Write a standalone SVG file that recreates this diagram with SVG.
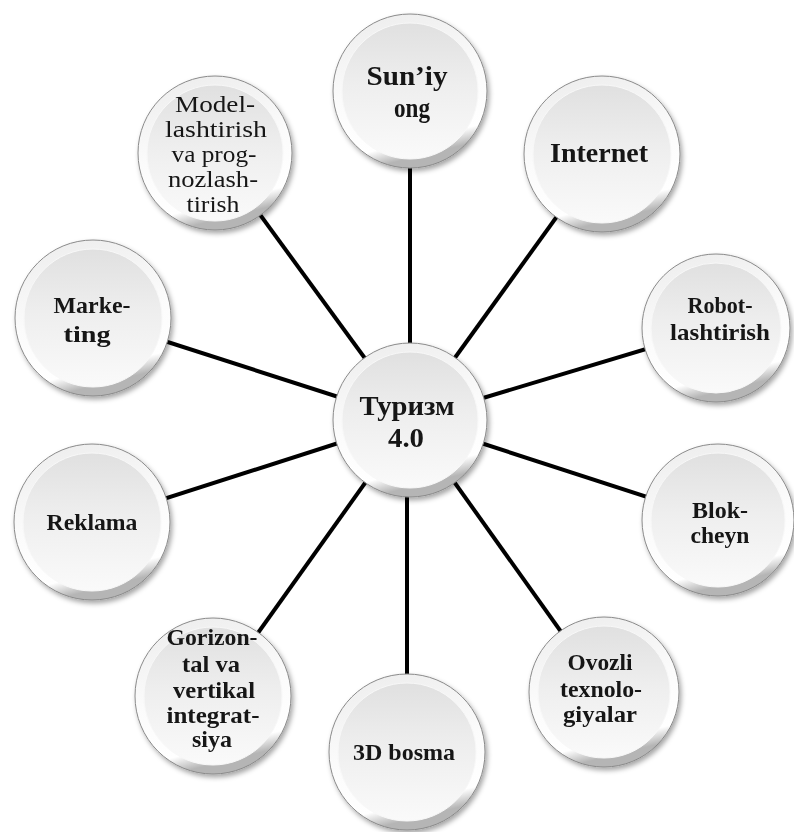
<svg xmlns="http://www.w3.org/2000/svg" width="794" height="832" viewBox="0 0 794 832">
<style>
.edge{stroke:#000;stroke-width:4;stroke-linecap:butt}
.rim{fill:url(#rim);stroke:#8a8a8a;stroke-width:1}
.face{fill:url(#face);stroke:#f8f8f8;stroke-width:1}
text{font-family:"Liberation Serif","Times New Roman",serif;fill:#151515;text-anchor:middle}
.b{font-weight:bold;font-size:24px}
.big{font-weight:bold;font-size:28px}
.r{font-weight:normal;font-size:23px}
</style>
<defs>
<linearGradient id="rim" x1="0" y1="0" x2="0.25" y2="1">
<stop offset="0" stop-color="#ececec"/>
<stop offset="0.55" stop-color="#fbfbfb"/>
<stop offset="0.9" stop-color="#ffffff"/>
<stop offset="1" stop-color="#b5b5b5"/>
</linearGradient>
<linearGradient id="face" x1="0" y1="0" x2="0" y2="1">
<stop offset="0" stop-color="#e0e0e0"/>
<stop offset="0.45" stop-color="#eeeeee"/>
<stop offset="1" stop-color="#fafafa"/>
</linearGradient>
<filter id="sh" x="-20%" y="-20%" width="140%" height="140%">
<feDropShadow dx="2" dy="3" stdDeviation="2.5" flood-color="#000" flood-opacity="0.35"/>
</filter>
</defs>
<rect width="794" height="832" fill="#fff"/>
<g id="connectors">
<line class="edge" x1="410" y1="420" x2="410" y2="91"/>
<line class="edge" x1="410" y1="420" x2="602" y2="154"/>
<line class="edge" x1="410" y1="420" x2="716" y2="328"/>
<line class="edge" x1="410" y1="420" x2="718" y2="520"/>
<line class="edge" x1="410" y1="420" x2="604" y2="692"/>
<line class="edge" x1="407" y1="420" x2="407" y2="752"/>
<line class="edge" x1="410" y1="420" x2="213" y2="696"/>
<line class="edge" x1="410" y1="420" x2="92" y2="522"/>
<line class="edge" x1="410" y1="420" x2="93" y2="318"/>
<line class="edge" x1="410" y1="420" x2="215" y2="153"/>
</g>
<g id="center" filter="url(#sh)">
<circle class="rim" cx="410" cy="420" r="77"/>
<circle class="face" cx="410" cy="420" r="68"/>
<text class="big" x="407" y="415" textLength="95" lengthAdjust="spacingAndGlyphs">Туризм</text>
<text class="big" x="406" y="447" textLength="36" lengthAdjust="spacingAndGlyphs">4.0</text>
</g>
<g id="suniy-ong" filter="url(#sh)">
<circle class="rim" cx="410" cy="91" r="77"/>
<circle class="face" cx="410" cy="91" r="68"/>
<text class="big" x="407" y="85" textLength="81" lengthAdjust="spacingAndGlyphs">Sun’iy</text>
<text class="big" x="412" y="117" textLength="36" lengthAdjust="spacingAndGlyphs">ong</text>
</g>
<g id="internet" filter="url(#sh)">
<circle class="rim" cx="602" cy="154" r="78"/>
<circle class="face" cx="602" cy="154" r="69"/>
<text class="big" x="599" y="162" textLength="98" lengthAdjust="spacingAndGlyphs">Internet</text>
</g>
<g id="robot" filter="url(#sh)">
<circle class="rim" cx="716" cy="328" r="74"/>
<circle class="face" cx="716" cy="328" r="65"/>
<text class="b" x="720" y="313" textLength="65" lengthAdjust="spacingAndGlyphs">Robot-</text>
<text class="b" x="720" y="340" textLength="100" lengthAdjust="spacingAndGlyphs">lashtirish</text>
</g>
<g id="blokcheyn" filter="url(#sh)">
<circle class="rim" cx="718" cy="520" r="76"/>
<circle class="face" cx="718" cy="520" r="67"/>
<text class="b" x="720" y="518" textLength="56" lengthAdjust="spacingAndGlyphs">Blok-</text>
<text class="b" x="720" y="543" textLength="59" lengthAdjust="spacingAndGlyphs">cheyn</text>
</g>
<g id="ovozli" filter="url(#sh)">
<circle class="rim" cx="604" cy="692" r="75"/>
<circle class="face" cx="604" cy="692" r="66"/>
<text class="b" x="600" y="670" textLength="65" lengthAdjust="spacingAndGlyphs">Ovozli</text>
<text class="b" x="601" y="697" textLength="82" lengthAdjust="spacingAndGlyphs">texnolo-</text>
<text class="b" x="600" y="722" textLength="74" lengthAdjust="spacingAndGlyphs">giyalar</text>
</g>
<g id="bosma" filter="url(#sh)">
<circle class="rim" cx="407" cy="752" r="78"/>
<circle class="face" cx="407" cy="752" r="69"/>
<text class="b" x="404" y="760" textLength="102" lengthAdjust="spacingAndGlyphs">3D bosma</text>
</g>
<g id="gorizontal" filter="url(#sh)">
<circle class="rim" cx="213" cy="696" r="78"/>
<circle class="face" cx="213" cy="696" r="69"/>
<text class="b" x="212" y="645" textLength="91" lengthAdjust="spacingAndGlyphs">Gorizon-</text>
<text class="b" x="211" y="672" textLength="58" lengthAdjust="spacingAndGlyphs">tal va</text>
<text class="b" x="214" y="698" textLength="82" lengthAdjust="spacingAndGlyphs">vertikal</text>
<text class="b" x="213" y="723" textLength="93" lengthAdjust="spacingAndGlyphs">integrat-</text>
<text class="b" x="212" y="747" textLength="40" lengthAdjust="spacingAndGlyphs">siya</text>
</g>
<g id="reklama" filter="url(#sh)">
<circle class="rim" cx="92" cy="522" r="78"/>
<circle class="face" cx="92" cy="522" r="69"/>
<text class="b" x="92" y="530" textLength="91" lengthAdjust="spacingAndGlyphs">Reklama</text>
</g>
<g id="marketing" filter="url(#sh)">
<circle class="rim" cx="93" cy="318" r="78"/>
<circle class="face" cx="93" cy="318" r="69"/>
<text class="b" x="92" y="313" textLength="77" lengthAdjust="spacingAndGlyphs">Marke-</text>
<text class="b" x="87" y="342" textLength="47" lengthAdjust="spacingAndGlyphs">ting</text>
</g>
<g id="modellashtirish" filter="url(#sh)">
<circle class="rim" cx="215" cy="153" r="77"/>
<circle class="face" cx="215" cy="153" r="68"/>
<text class="r" x="215" y="112" textLength="80" lengthAdjust="spacingAndGlyphs">Model-</text>
<text class="r" x="216" y="137" textLength="102" lengthAdjust="spacingAndGlyphs">lashtirish</text>
<text class="r" x="214" y="162" textLength="85" lengthAdjust="spacingAndGlyphs">va prog-</text>
<text class="r" x="213" y="187" textLength="90" lengthAdjust="spacingAndGlyphs">nozlash-</text>
<text class="r" x="213" y="212" textLength="53" lengthAdjust="spacingAndGlyphs">tirish</text>
</g>
</svg>
